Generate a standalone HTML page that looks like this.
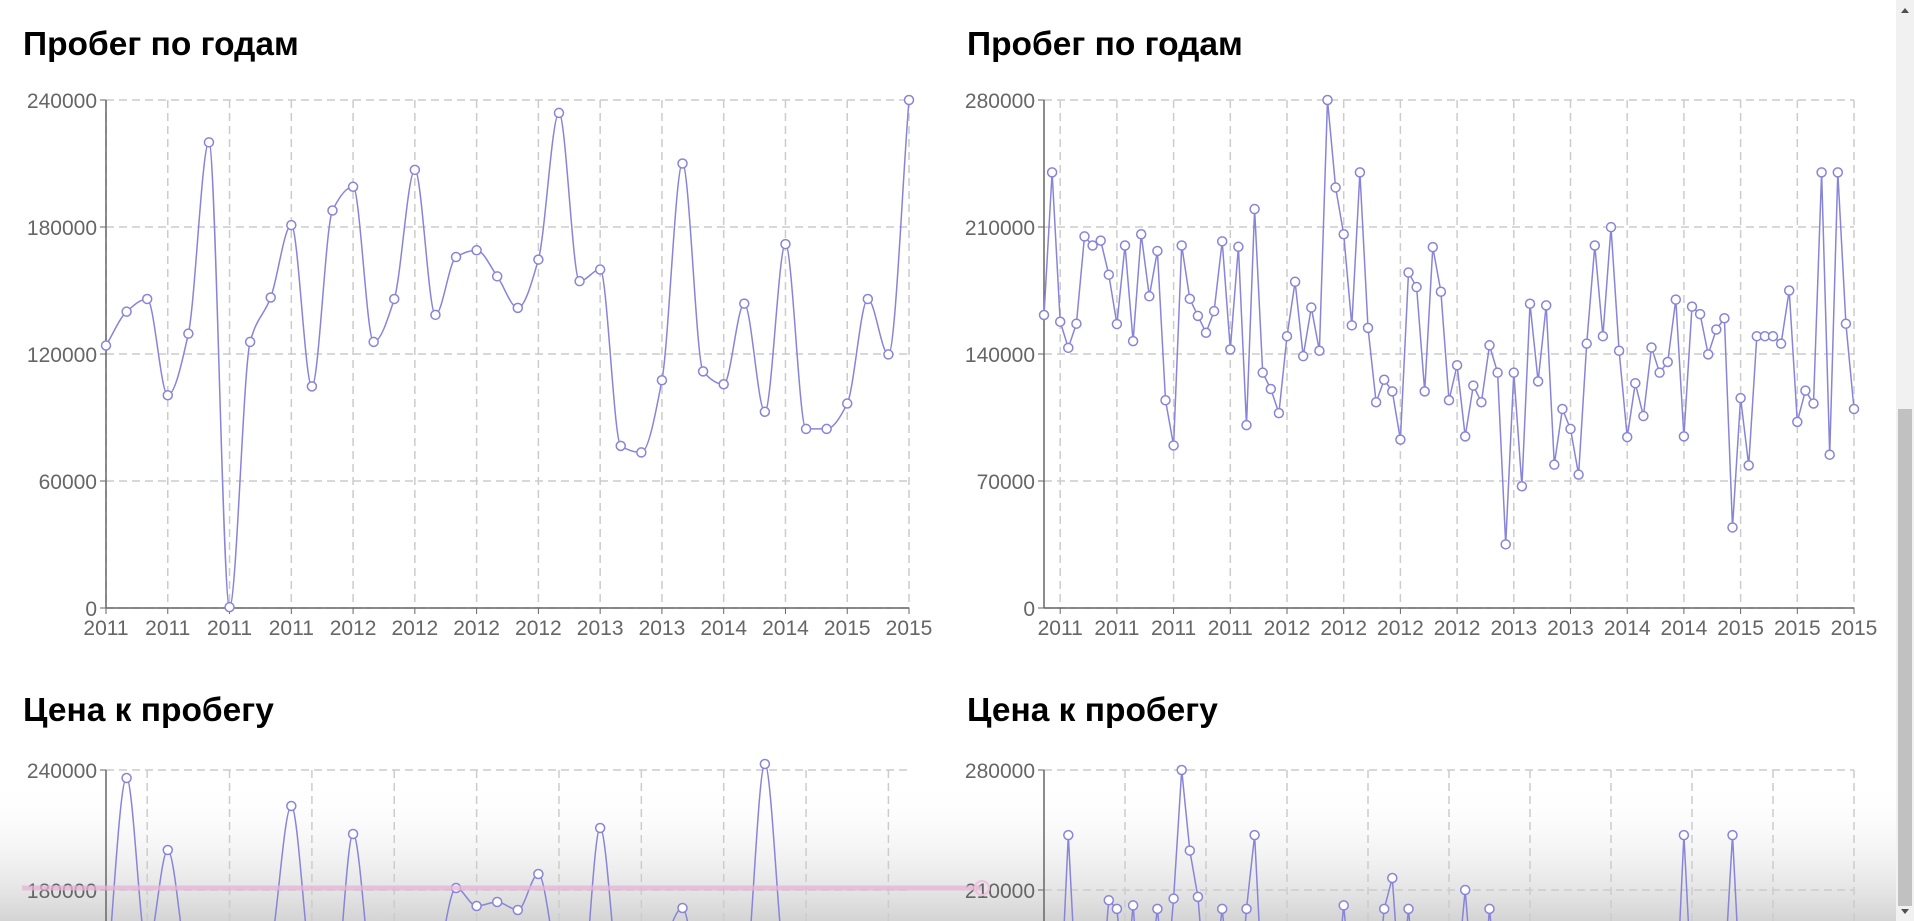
<!DOCTYPE html>
<html><head><meta charset="utf-8">
<style>
html,body{margin:0;padding:0;background:#fff;width:1914px;height:921px;overflow:hidden;}
svg{display:block;overflow:hidden;font-family:"Liberation Sans","DejaVu Sans",sans-serif;}
.title{font-size:33.5px;font-weight:bold;fill:#000;}
.tick{font-size:21px;fill:#666;}
</style></head>
<body>
<svg id="svg" width="1914" height="921" viewBox="0 0 1914 921" xmlns="http://www.w3.org/2000/svg">
<defs>
<linearGradient id="fade" x1="0" y1="0" x2="0" y2="1">
<stop offset="0" stop-color="#ffffff" stop-opacity="0"/>
<stop offset="1" stop-color="#d4d4d4" stop-opacity="1"/>
</linearGradient>
<clipPath id="frame"><rect x="0" y="0" width="1914" height="921"/></clipPath>
</defs>
<rect x="0" y="780" width="1896" height="141" fill="url(#fade)"/>
<text class="title" x="23" y="55">Пробег по годам</text>
<text class="title" x="967" y="55">Пробег по годам</text>
<text class="title" x="23" y="721">Цена к пробегу</text>
<text class="title" x="967" y="721">Цена к пробегу</text>
<g clip-path="url(#frame)">
<g id="c1"></g>
<g id="c2"></g>
<g id="c3"></g>
<g id="c4"></g>
</g>
<line x1="22" y1="888" x2="982" y2="888" stroke="#e6b4d6" stroke-width="5" opacity="0.75"/>
<circle cx="982" cy="888" r="7" fill="none" stroke="#f0c0dc" stroke-width="2"/>
<rect x="1896" y="0" width="18" height="921" fill="#f1f1f1"/>
<rect x="1898" y="409" width="14" height="497" fill="#c1c1c1"/>
<path d="M1901,13 L1905,8 L1909,13 Z" fill="#505050"/>
<path d="M1901,909 L1905,914 L1909,909 Z" fill="#505050"/>
</svg>
<script>
const leftLabels = ["2011","2011","2011","2011","2012","2012","2012","2012","2013","2013","2014","2014","2015","2015"];
const leftYTicks = [0,60000,120000,180000,240000];
const leftValues = [124000,140000,146000,100500,129600,220000,400,125700,146700,180900,104700,187800,199000,125700,146000,207000,138500,165800,169000,156700,141800,164600,233900,154400,159900,76600,73500,107600,210000,111800,105700,143800,92700,171900,84600,84600,96600,146000,119800,240000];

const rightLabels = ["2011","2011","2011","2011","2012","2012","2012","2012","2013","2013","2014","2014","2015","2015","2015"];
const rightYTicks = [0,70000,140000,210000,280000];
const rightValues = [161500,240100,157800,143400,156700,204800,199800,202500,183700,156500,199800,147100,206000,171800,196800,114500,89600,199800,170400,161000,151700,163600,202100,142500,199100,100800,219900,129700,120700,107400,149800,179800,138800,165600,141800,280000,231800,206000,155800,240100,154400,113400,125800,119400,92800,184900,176900,119400,198900,174300,114500,133800,94600,122600,113400,144800,129700,35100,129700,67100,167700,124900,166800,79000,109700,98700,73500,145700,199800,149800,209900,141800,94200,123900,105800,143600,129700,135600,170000,94600,166100,162000,139800,153500,159700,44400,115700,78600,149800,149800,149800,145700,175000,102600,119800,112700,240100,84500,240100,156700,109700];

const priceLeftYTicks = [180000,240000];
const priceLeftValues = [130000,236000,150000,200000,140000,120000,130000,110000,150000,222000,140000,120000,208000,130000,110000,120000,140000,181000,172000,174000,170000,188000,140000,120000,211000,130000,120000,150000,171000,120000,110000,130000,243000,140000,120000,110000,130000,120000,140000,120000];

const priceRightYTicks = [210000,280000];
const priceRightValues = [150000,160000,140000,242000,150000,140000,160000,150000,204000,199000,150000,201000,140000,160000,199000,150000,205000,280000,233000,206000,150000,160000,199000,150000,140000,199000,242000,150000,140000,160000,150000,140000,150000,160000,150000,140000,150000,201000,150000,140000,160000,150000,199000,217000,150000,199000,140000,150000,160000,150000,140000,160000,210000,150000,140000,199000,150000,160000,140000,150000,160000,150000,140000,150000,160000,150000,140000,150000,160000,150000,140000,150000,160000,150000,140000,150000,160000,150000,140000,242000,150000,160000,140000,150000,160000,242000,150000,140000,160000,150000,140000,150000,160000,150000,140000,150000,160000,150000,140000,150000,160000];

const NS = "http://www.w3.org/2000/svg";
function mk(tag, attrs, parent){
  const e = document.createElementNS(NS, tag);
  for (const k in attrs) e.setAttribute(k, attrs[k]);
  parent.appendChild(e);
  return e;
}
function monotonePath(pts){
  const n = pts.length; if (n < 2) return "";
  const d = [], m = [];
  for (let i=0;i<n-1;i++) d.push((pts[i+1][1]-pts[i][1])/(pts[i+1][0]-pts[i][0]));
  m[0]=d[0]; m[n-1]=d[n-2];
  for (let i=1;i<n-1;i++){
    if (d[i-1]*d[i] <= 0) m[i]=0;
    else { const h0=pts[i][0]-pts[i-1][0], h1=pts[i+1][0]-pts[i][0];
      m[i] = 3*(h0+h1)/((2*h1+h0)/d[i-1] + (h1+2*h0)/d[i]); }
  }
  let s = "M"+pts[0][0]+","+pts[0][1];
  for (let i=0;i<n-1;i++){
    const h=(pts[i+1][0]-pts[i][0])/3;
    s += " C"+(pts[i][0]+h)+","+(pts[i][1]+m[i]*h)+" "+(pts[i+1][0]-h)+","+(pts[i+1][1]-m[i+1]*h)+" "+pts[i+1][0]+","+pts[i+1][1];
  }
  return s;
}
function drawChart(g, cfg){
  const {x0,x1,yTop,yBottom,vMax,vMin,values,yTicks,xLabels,tickStart,tickStep,curved,clipBottom} = cfg;
  const n = values.length;
  const xs = i => x0 + (x1-x0)*i/(n-1);
  const ys = v => yBottom - (v - vMin)/(vMax - vMin)*(yBottom - yTop);
  const gridBottom = Math.min(yBottom, clipBottom);
  yTicks.forEach(t=>{
    const y = ys(t);
    const gl = mk("line",{x1:x0,x2:x1,y1:y,y2:y,stroke:"#ccc","stroke-dasharray":"8 5","stroke-width":1.5},g);
    
    
    const tk = mk("line",{x1:x0-6,x2:x0,y1:y,y2:y,stroke:"#666"},g);
    
    
    const tx = mk("text",{x:x0-9,y:y+8,"text-anchor":"end",class:"tick"},g);
    tx.textContent = t;
    
    
  });
  let k = 0;
  for (let i=tickStart;i<n;i+=tickStep){
    const x = xs(i);
    const vl = mk("line",{x1:x,x2:x,y1:yTop,y2:gridBottom,stroke:"#ccc","stroke-dasharray":"8 5","stroke-width":1.5},g);
    
    
    if (xLabels && k < xLabels.length){
      const tk = mk("line",{x1:x,x2:x,y1:yBottom,y2:yBottom+6,stroke:"#666"},g);
      
      
      const tx = mk("text",{x:x,y:yBottom+27,"text-anchor":"middle",class:"tick"},g);
      tx.textContent = xLabels[k];
      
      
    }
    k++;
  }
  const ya = mk("line",{x1:x0,x2:x0,y1:yTop,y2:gridBottom,stroke:"#666","stroke-width":1.5},g);
  
  
  if (yBottom <= clipBottom){
    const xa = mk("line",{x1:x0,x2:x1,y1:yBottom,y2:yBottom,stroke:"#666","stroke-width":1.5},g);
    
    
  }
  const pts = values.map((v,i)=>[xs(i), ys(v)]);
  const d = curved ? monotonePath(pts) : "M"+pts.map(p=>p[0]+","+p[1]).join(" L");
  const line = mk("path",{d:d,fill:"none",stroke:"#8884d8","stroke-width":1.5},g);
  
  
  pts.forEach(p=>{
    if (p[1] > clipBottom + 6) return;
    const c = mk("circle",{cx:p[0],cy:p[1],r:4.5,fill:"#fff",stroke:"#8884d8","stroke-width":1.5},g);
    
    
  });
}
drawChart(document.getElementById("c1"),{x0:106,x1:909,yTop:100,yBottom:608,vMin:0,vMax:240000,values:leftValues,yTicks:leftYTicks,xLabels:leftLabels,tickStart:0,tickStep:3,curved:true,clipBottom:921});
drawChart(document.getElementById("c2"),{x0:1044,x1:1854,yTop:100,yBottom:608,vMin:0,vMax:280000,values:rightValues,yTicks:rightYTicks,xLabels:rightLabels,tickStart:2,tickStep:7,curved:false,clipBottom:921});
drawChart(document.getElementById("c3"),{x0:106,x1:909,yTop:770,yBottom:1250,vMin:0,vMax:240000,values:priceLeftValues,yTicks:priceLeftYTicks,xLabels:null,tickStart:2,tickStep:4,curved:true,clipBottom:921});
drawChart(document.getElementById("c4"),{x0:1044,x1:1854,yTop:770,yBottom:1250,vMin:0,vMax:280000,values:priceRightValues,yTicks:priceRightYTicks,xLabels:null,tickStart:10,tickStep:10,curved:false,clipBottom:921});
</script>
</body></html>
